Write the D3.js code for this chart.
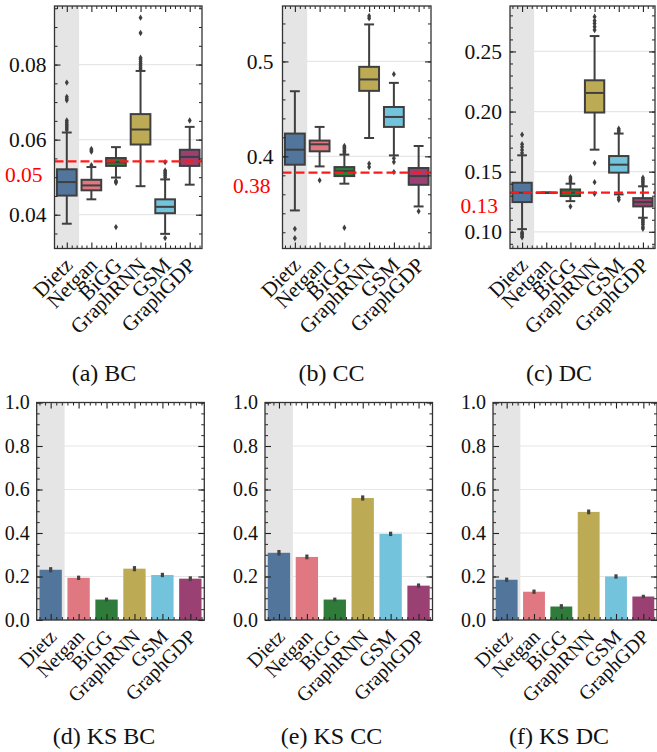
<!DOCTYPE html>
<html>
<head>
<meta charset="utf-8">
<script src="https://cdn.jsdelivr.net/npm/d3@7"></script>
<style>
body { margin: 0; background: #fff; }
svg { display: block; font-family: 'Liberation Serif', 'DejaVu Serif', serif; }
</style>
</head>
<body>
<div class="chart"></div>
<script>
// categories and colours
var methods = ["Dietz", "Netgan", "BiGG", "GraphRNN", "GSM", "GraphGDP"];
var methodColors = ["#52769b", "#e07882", "#2e7b3a", "#bcab54", "#74c3dc", "#9a4072"];

// box stats per method: [lower whisker, q1, median, q3, upper whisker]
var bcBoxes = [
    [0.0376, 0.0451, 0.0487, 0.0521, 0.0619],
    [0.0441, 0.0465, 0.0478, 0.0493, 0.0527],
    [0.0499, 0.0530, 0.0540, 0.0551, 0.0580],
    [0.0476, 0.0587, 0.0627, 0.0668, 0.0783],
    [0.0349, 0.0404, 0.0421, 0.0441, 0.0494],
    [0.0480, 0.0530, 0.0554, 0.0573, 0.0634]
];
var bcOutliers = [
    [0.0626, 0.0631, 0.0636, 0.0641, 0.0646, 0.0651, 0.0705, 0.0709, 0.0714, 0.0752],
    [0.0532, 0.0568, 0.0572, 0.0575],
    [0.0490, 0.0487, 0.0485, 0.0367],
    [0.0788, 0.0793, 0.0798, 0.0803, 0.0808, 0.0814, 0.0818, 0.0884, 0.0925],
    [0.0500, 0.0505, 0.0510, 0.0514, 0.0518, 0.0540, 0.0338],
    [0.0651]
];
var bcRef = 0.0542, bcRefLabel = "0.05";
var bcTicks = [0.04, 0.06, 0.08];

var ccBoxes = [
    [0.3430, 0.3912, 0.4070, 0.4240, 0.4686],
    [0.3894, 0.4053, 0.4127, 0.4166, 0.4310],
    [0.3712, 0.3792, 0.3845, 0.3887, 0.4018],
    [0.4193, 0.4690, 0.4810, 0.4943, 0.5390],
    [0.4010, 0.4310, 0.4415, 0.4520, 0.4774],
    [0.3472, 0.3700, 0.3792, 0.3877, 0.4109]
];
var ccOutliers = [
    [0.3236, 0.3137],
    [0.3747],
    [0.4035, 0.4050, 0.4065, 0.4080, 0.4095, 0.4110, 0.3247],
    [0.5454, 0.5478, 0.3923, 0.3887],
    [0.4866, 0.3979, 0.3940, 0.3834],
    [0.3422]
];
var ccRef = 0.3828, ccRefLabel = "0.38";
var ccTicks = [0.4, 0.5];

var dcBoxes = [
    [0.1022, 0.1247, 0.1325, 0.1408, 0.1636],
    [0.1325, 0.1325, 0.1325, 0.1325, 0.1325],
    [0.1255, 0.1297, 0.1325, 0.1352, 0.1400],
    [0.1683, 0.1992, 0.2155, 0.2260, 0.2628],
    [0.1311, 0.1492, 0.1558, 0.1630, 0.1817],
    [0.1117, 0.1211, 0.1247, 0.1280, 0.1378]
];
var dcOutliers = [
    [0.1655, 0.1680, 0.1705, 0.1728, 0.1808, 0.0997, 0.0985, 0.0975, 0.0962, 0.0955],
    [],
    [0.1415, 0.1430, 0.1443, 0.1455, 0.1210],
    [0.2678, 0.2705, 0.2733, 0.2755, 0.2788, 0.1572, 0.1413, 0.1317],
    [0.1830, 0.1845, 0.1858, 0.1285, 0.1267],
    [0.1390, 0.1405, 0.1420, 0.1435, 0.1450, 0.1105, 0.1090, 0.1075, 0.1060, 0.1040, 0.1025]
];
var dcRef = 0.1325, dcRefLabel = "0.13";
var dcTicks = [0.10, 0.15, 0.20, 0.25];

// KS statistics (bar heights) and error bar half-widths
var ksBC = [0.231, 0.194, 0.094, 0.236, 0.207, 0.190];
var ksBCErr = [0.012, 0.010, 0.009, 0.012, 0.010, 0.011];
var ksCC = [0.309, 0.290, 0.094, 0.561, 0.396, 0.158];
var ksCCErr = [0.013, 0.011, 0.009, 0.012, 0.010, 0.010];
var ksDC = [0.185, 0.130, 0.062, 0.497, 0.200, 0.108];
var ksDCErr = [0.010, 0.010, 0.011, 0.011, 0.010, 0.008];
var ksTicks = [0, 0.2, 0.4, 0.6, 0.8, 1.0];

var captions = ["(a) BC", "(b) CC", "(c) DC", "(d) KS BC", "(e) KS CC", "(f) KS DC"];

var svgWidth = 657, svgHeight = 752;
var dark = "#3f3f3f";
var serif = "'Liberation Serif', 'DejaVu Serif', serif";

var svg = d3.select(".chart").append("svg")
    .attr("width", svgWidth)
    .attr("height", svgHeight);

// frame, inside ticks on all four sides, tick labels
function drawAxes(g, x, y, box, cfg) {
    var idx = d3.scaleLinear().domain([-0.5, 5.5]).range([box.x0, box.x1]);
    var minorX = d3.range(-0.4, 5.5, 0.2).filter(d => Math.abs(d - Math.round(d)) > 0.05);
    var minorY = [];
    var step = cfg.minorStep;
    var start = Math.ceil(cfg.domain[0] / step - 1e-6);
    var stop = Math.floor(cfg.domain[1] / step + 1e-6);
    for (var k = start; k <= stop; k++) minorY.push(k * step);

    // bottom + top
    [["axisBottom", box.y1], ["axisTop", box.y0]].forEach(function(a) {
        g.append("g").attr("transform", `translate(0,${a[1]})`)
            .call(d3[a[0]](idx).tickValues(minorX).tickSize(-3).tickFormat(""))
            .call(s => s.select(".domain").remove())
            .selectAll("line").attr("stroke", "#222");
        g.append("g").attr("transform", `translate(0,${a[1]})`)
            .call(d3[a[0]](idx).tickValues(d3.range(6)).tickSize(-6).tickFormat(""))
            .call(s => s.select(".domain").remove())
            .selectAll("line").attr("stroke", "#222").attr("stroke-width", 1.1);
    });
    // left + right
    [["axisLeft", box.x0], ["axisRight", box.x1]].forEach(function(a) {
        g.append("g").attr("transform", `translate(${a[1]},0)`)
            .call(d3[a[0]](y).tickValues(minorY).tickSize(-3).tickFormat(""))
            .call(s => s.select(".domain").remove())
            .selectAll("line").attr("stroke", "#222");
        g.append("g").attr("transform", `translate(${a[1]},0)`)
            .call(d3[a[0]](y).tickValues(cfg.ticks).tickSize(-6).tickFormat(""))
            .call(s => s.select(".domain").remove())
            .selectAll("line").attr("stroke", "#222").attr("stroke-width", 1.1);
    });

    // y tick labels
    g.append("g").attr("transform", `translate(${box.x0},0)`)
        .call(d3.axisLeft(y).tickValues(cfg.ticks).tickSize(0).tickPadding(cfg.labelGap).tickFormat(d3.format(cfg.fmt)))
        .call(s => s.select(".domain").remove())
        .selectAll("text")
        .attr("font-family", serif)
        .attr("font-size", cfg.labelSize)
        .attr("fill", "#111");

    // rotated category labels
    g.append("g").attr("transform", `translate(0,${box.y1})`)
        .call(d3.axisBottom(x).tickSize(0).tickPadding(0))
        .call(s => s.select(".domain").remove())
        .selectAll("text")
        .attr("y", 0).attr("dy", null)
        .attr("text-anchor", "end")
        .attr("font-family", serif)
        .attr("font-size", cfg.catSize)
        .attr("fill", "#111")
        .attr("transform", "translate(7,18) rotate(-45)");

    g.append("rect")
        .attr("x", box.x0).attr("y", box.y0)
        .attr("width", box.x1 - box.x0).attr("height", box.y1 - box.y0)
        .attr("fill", "none").attr("stroke", "#333").attr("stroke-width", 1.3);
}

// grey band behind Dietz + horizontal grid
function drawBackground(g, x, y, box, ticks) {
    g.append("rect")
        .attr("x", x(methods[0])).attr("y", box.y0)
        .attr("width", x.bandwidth()).attr("height", box.y1 - box.y0)
        .attr("fill", "#e5e5e5");
    g.selectAll(".grid").data(ticks).enter().append("line")
        .attr("x1", box.x0).attr("x2", box.x1)
        .attr("y1", d => y(d)).attr("y2", d => y(d))
        .attr("stroke", "#e6e6e6").attr("stroke-width", 1.2);
}

function boxPanel(cfg) {
    var box = cfg.box;
    var g = svg.append("g");
    var x = d3.scaleBand().domain(methods).range([box.x0, box.x1]);
    var y = d3.scaleLinear().domain(cfg.domain).range([box.y1, box.y0]);
    var bw = x.bandwidth() * 0.8;

    drawBackground(g, x, y, box, cfg.ticks);

    methods.forEach(function(m, i) {
        var s = cfg.boxes[i];
        var cx = x(m) + x.bandwidth() / 2;
        var bg = g.append("g");
        bg.append("line").attr("x1", cx).attr("x2", cx).attr("y1", y(s[0])).attr("y2", y(s[1]))
            .attr("stroke", dark).attr("stroke-width", 2);
        bg.append("line").attr("x1", cx).attr("x2", cx).attr("y1", y(s[3])).attr("y2", y(s[4]))
            .attr("stroke", dark).attr("stroke-width", 2);
        [s[0], s[4]].forEach(function(v) {
            bg.append("line").attr("x1", cx - bw / 4).attr("x2", cx + bw / 4)
                .attr("y1", y(v)).attr("y2", y(v))
                .attr("stroke", dark).attr("stroke-width", 2);
        });
        bg.append("rect")
            .attr("x", cx - bw / 2).attr("y", y(s[3]))
            .attr("width", bw).attr("height", Math.max(y(s[1]) - y(s[3]), 0.01))
            .attr("fill", methodColors[i])
            .attr("stroke", dark).attr("stroke-width", 2);
        bg.append("line").attr("x1", cx - bw / 2).attr("x2", cx + bw / 2)
            .attr("y1", y(s[2])).attr("y2", y(s[2]))
            .attr("stroke", dark).attr("stroke-width", 2);
        bg.selectAll("path").data(cfg.outliers[i]).enter().append("path")
            .attr("d", "M0,-3.2L2,0L0,3.2L-2,0Z")
            .attr("transform", d => `translate(${cx},${y(d)})`)
            .attr("fill", dark);
    });

    // reference line and its label
    g.append("line")
        .attr("x1", box.x0).attr("x2", box.x1)
        .attr("y1", y(cfg.ref)).attr("y2", y(cfg.ref))
        .attr("stroke", "#ff1a1a").attr("stroke-width", 2.3)
        .attr("stroke-dasharray", "9,4");
    g.append("text")
        .attr("x", box.x0 - 12).attr("y", y(cfg.ref) + 13)
        .attr("dy", "0.35em")
        .attr("text-anchor", "end")
        .attr("font-family", serif)
        .attr("font-size", cfg.labelSize)
        .attr("fill", "#ff0000")
        .text(cfg.refLabel);

    drawAxes(g, x, y, box, cfg);
}

function barPanel(cfg) {
    var box = cfg.box;
    var g = svg.append("g");
    var x = d3.scaleBand().domain(methods).range([box.x0, box.x1]);
    var y = d3.scaleLinear().domain(cfg.domain).range([box.y1, box.y0]);
    var bw = x.bandwidth() * 0.8;

    drawBackground(g, x, y, box, cfg.ticks);

    g.selectAll(".bar").data(cfg.values).enter().append("rect")
        .attr("x", (d, i) => x(methods[i]) + (x.bandwidth() - bw) / 2)
        .attr("y", d => y(d))
        .attr("width", bw)
        .attr("height", d => y(0) - y(d))
        .attr("fill", (d, i) => methodColors[i]);

    g.selectAll(".err").data(cfg.values).enter().append("line")
        .attr("x1", (d, i) => x(methods[i]) + x.bandwidth() / 2)
        .attr("x2", (d, i) => x(methods[i]) + x.bandwidth() / 2)
        .attr("y1", (d, i) => y(d - cfg.errors[i]))
        .attr("y2", (d, i) => y(d + cfg.errors[i]))
        .attr("stroke", "#444").attr("stroke-width", 3.2);

    drawAxes(g, x, y, box, cfg);
}

var topY = { y0: 6, y1: 248.5 };
var botY = { y0: 402.5, y1: 620 };

boxPanel({ box: { x0: 54.5, x1: 202, y0: topY.y0, y1: topY.y1 }, domain: [0.0310, 0.0956],
    boxes: bcBoxes, outliers: bcOutliers, ref: bcRef, refLabel: bcRefLabel,
    ticks: bcTicks, minorStep: 0.005, fmt: ".2f", labelGap: 8, labelSize: 21.5, catSize: 21 });
boxPanel({ box: { x0: 282.5, x1: 431, y0: topY.y0, y1: topY.y1 }, domain: [0.3029, 0.5584],
    boxes: ccBoxes, outliers: ccOutliers, ref: ccRef, refLabel: ccRefLabel,
    ticks: ccTicks, minorStep: 0.02, fmt: ".1f", labelGap: 9, labelSize: 21.5, catSize: 21 });
boxPanel({ box: { x0: 510, x1: 655, y0: topY.y0, y1: topY.y1 }, domain: [0.0861, 0.2878],
    boxes: dcBoxes, outliers: dcOutliers, ref: dcRef, refLabel: dcRefLabel,
    ticks: dcTicks, minorStep: 0.01, fmt: ".2f", labelGap: 8, labelSize: 21.5, catSize: 21 });

barPanel({ box: { x0: 36.7, x1: 204.3, y0: botY.y0, y1: botY.y1 }, domain: [0, 1],
    values: ksBC, errors: ksBCErr, ticks: ksTicks, minorStep: 0.05, fmt: ".1f", labelGap: 7, labelSize: 20, catSize: 20 });
barPanel({ box: { x0: 265, x1: 432.5, y0: botY.y0, y1: botY.y1 }, domain: [0, 1],
    values: ksCC, errors: ksCCErr, ticks: ksTicks, minorStep: 0.05, fmt: ".1f", labelGap: 7, labelSize: 20, catSize: 20 });
barPanel({ box: { x0: 493, x1: 657, y0: botY.y0, y1: botY.y1 }, domain: [0, 1],
    values: ksDC, errors: ksDCErr, ticks: ksTicks, minorStep: 0.05, fmt: ".1f", labelGap: 7, labelSize: 20, catSize: 20 });

// sub-figure captions
var capX = [104, 331.5, 559, 104, 331.5, 559];
var capY = [381, 381, 381, 744, 744, 744];
svg.selectAll(".caption").data(captions).enter().append("text")
    .attr("x", (d, i) => capX[i])
    .attr("y", (d, i) => capY[i])
    .attr("text-anchor", "middle")
    .attr("font-family", serif)
    .attr("font-size", 24)
    .attr("fill", "#111")
    .text(d => d);
</script>
</body>
</html>
